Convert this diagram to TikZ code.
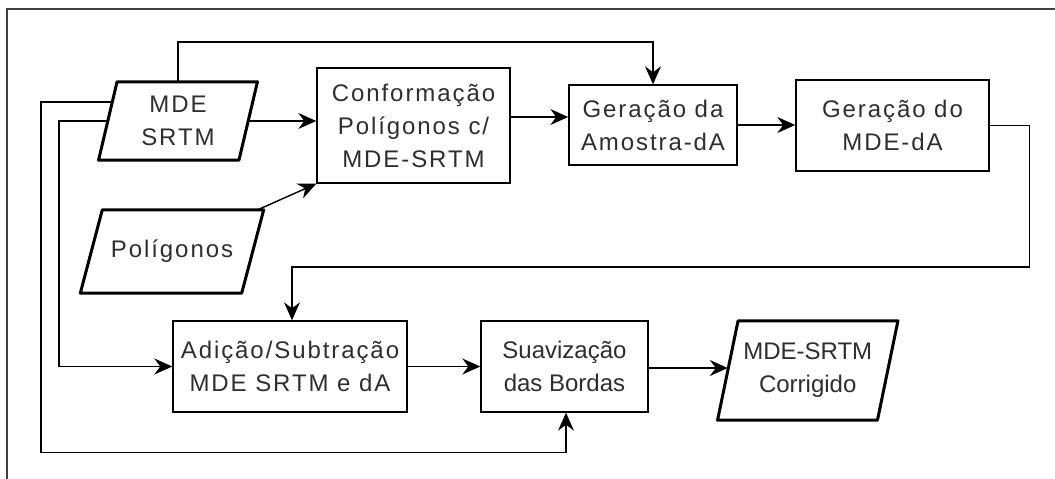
\documentclass[tikz,border=0pt]{standalone}
\usepackage{fontspec}
\setmainfont{Liberation Sans}
\newfontfamily\widefont{Liberation Sans}[LetterSpace=8]
\usetikzlibrary{arrows.meta,calc}

% thick outline of an input/output (parallelogram) node
\newcommand\ioframe[2]{%
  \draw[ioline] ([xshift=#2]#1.north west) -- ([xshift=#2]#1.north east)
    -- ([xshift=-#2]#1.south east) -- ([xshift=-#2]#1.south west) -- cycle;}

\begin{document}
\begin{tikzpicture}[x=1pt,y=-1pt,
  txt/.style={font=\fontsize{24}{33}\selectfont, align=center, inner sep=0pt, text=black!82},
  wide/.style={txt, font=\widefont\fontsize{24}{33}\selectfont},
  procbox/.style={draw, line width=1.4pt},
  iobox/.style={},
  ioline/.style={line width=3pt, line join=round},
  arr/.style={line width=1.4pt, -{Stealth[length=18pt, width=16pt, inset=6pt]}},
  link/.style={line width=1.4pt}]

\useasboundingbox (0,0) rectangle (1055,479);

% page frame
\draw[black!75, line width=1.2pt] (7,479) -- (7,9) -- (1055,9);

% input / output nodes
\node[wide, iobox, minimum width=140, minimum height=78] (M) at (178,121) {MDE\\SRTM};
\ioframe{M}{9.25}
\node[wide, iobox, minimum width=161, minimum height=83] (P) at (172,251.5) {Polígonos};
\ioframe{P}{11}
\node[txt, iobox, minimum width=159.5, minimum height=99] (R) at (807.75,370.5) {MDE-SRTM\\Corrigido};
\ioframe{R}{10.25}

% process boxes
\node[wide, procbox, minimum width=193, minimum height=115] (C) at (413.5,125.5) {Conformação\\Polígonos c/\\MDE-SRTM};
\node[wide, procbox, minimum width=168, minimum height=80] (A) at (653,125) {Geração da\\Amostra-dA};
\node[wide, procbox, minimum width=193, minimum height=91] (D) at (892.5,125.5) {Geração do\\MDE-dA};
\node[wide, procbox, minimum width=234, minimum height=91] (S) at (290,366.5) {Adição/Subtração\\MDE SRTM e dA};
\node[txt, procbox, minimum width=167, minimum height=91] (B) at (564.5,366.5) {Suavização\\das Bordas};

% connectors
\draw[arr] (M.north) -- ++(0,-40) -| (A.north);
\draw[arr] (M.east) -- (M.east -| C.west);
\draw[arr] ([xshift=5]P.north east) -- (C.south west);
\draw[arr] ([yshift=8.5]C.east) -- ([yshift=8.5]C.east -| A.west);
\draw[arr] (A.east) -- (A.east -| D.west);
\draw[arr] (D.east) -- ++(40,0) -- ++(0,141.5) -| ([xshift=2]S.north);
\draw[arr] ($(M.west)+(4.4,-19)$) -- ++(-71.2,0) |- ($(B.south)+(1.5,40)$) -- ([xshift=1.5]B.south);
\draw[arr] (M.west) -- ++(-48.75,0) |- (S.west);
\draw[arr] (S.east) -- (S.east -| B.west);
\draw[arr] ([yshift=-1.5]B.east) -- ([yshift=-1.5]B.east -| R.west);

\end{tikzpicture}
\end{document}
